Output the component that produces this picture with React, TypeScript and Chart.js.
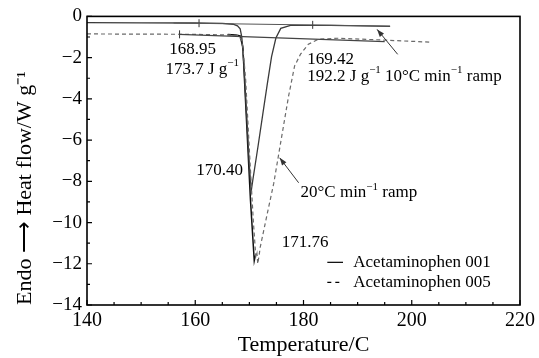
import React, { useEffect, useRef } from "react";
import { Chart, registerables } from "chart.js";
Chart.register(...registerables);

const FONT = "'Liberation Serif', 'Times New Roman', Times, serif";

// axis ticks
const xTicks = [140, 160, 180, 200, 220];
const yTicks = [0, -2, -4, -6, -8, -10, -12, -14];
const xMinor = [145, 150, 155, 165, 170, 175, 185, 190, 195, 205, 210, 215];
const yMinor = [-1, -3, -5, -7, -9, -11, -13];

// Acetaminophen 001, 10 °C/min (solid)
const a001_10_T = [140, 150, 160, 165, 167, 167.8, 168.3, 168.6, 169.0, 169.5, 170.0, 170.35, 170.6, 171.6, 172.5, 173.3, 174.1, 174.9, 175.8, 177.6, 185, 196];
const a001_10_H = [-0.3, -0.31, -0.32, -0.34, -0.38, -0.46, -0.6, -1.0, -2.4, -4.85, -7.25, -8.45, -8.0, -6.3, -4.7, -3.3, -1.95, -1.05, -0.58, -0.44, -0.44, -0.48];

// Acetaminophen 001, 20 °C/min (solid)
const a001_20_T = [166, 167.5, 168.3, 168.8, 169.5, 170.2, 170.9, 171.1];
const a001_20_H = [-0.88, -0.9, -0.95, -1.5, -5.2, -8.9, -11.85, -11.6];

// Acetaminophen 005 (dashed)
const a005_T = [140, 150, 160, 166, 168, 168.7, 169.3, 170.0, 170.7, 171.2, 171.4, 171.55, 171.8, 172.0, 173.0, 174.5, 176.15, 177.25, 178.35, 179.45, 180.9, 182.75, 186.4, 195, 203.5];
const a005_H = [-0.85, -0.86, -0.87, -0.9, -0.93, -1.2, -3.0, -6.5, -9.8, -11.7, -11.5, -12.0, -11.6, -11.2, -9.95, -8.1, -5.55, -3.86, -2.41, -1.83, -1.35, -1.11, -1.06, -1.15, -1.25];

// integration baselines
const baseUpperT = [156, 196];
const baseUpperH = [-0.32, -0.47];
const baseLowerT = [157, 195];
const baseLowerH = [-0.87, -1.22];
const baseTickT = [160.7, 181.7, 157.1];
const baseTickH = [-0.33, -0.41, -0.87];

// annotations (data coordinates)
const annotations = [
  { x: 155.2, y: -1.6, parts: [["168.95", 0]] },
  { x: 154.5, y: -2.56, parts: [["173.7 J g", 0], ["\u22121", 1]] },
  { x: 180.7, y: -2.08, parts: [["169.42", 0]] },
  { x: 180.7, y: -2.9, parts: [["192.2 J g", 0], ["\u22121", 1]] },
  { x: 195.05, y: -2.9, parts: [["10\u00B0C min", 0], ["\u22121", 1], [" ramp", 0]] },
  { x: 160.2, y: -7.48, parts: [["170.40", 0]] },
  { x: 179.45, y: -8.55, parts: [["20\u00B0C min", 0], ["\u22121", 1], [" ramp", 0]] },
  { x: 176.0, y: -10.96, parts: [["171.76", 0]] },
];
const arrows = [
  { from: [197.4, -1.84], to: [193.6, -0.63] },
  { from: [179.1, -8.07], to: [175.6, -6.86] },
];
const legendItems = [
  { label: "Acetaminophen 001", dash: [] as number[], y: -11.93 },
  { label: "Acetaminophen 005", dash: [4, 4], y: -12.9 },
];
const legendX = [184.4, 187.3, 189.2];

const zip = (xs: number[], ys: number[]) => xs.map((x, i) => ({ x, y: ys[i] }));
const fmt = (v: number) => (v < 0 ? "\u2212" + Math.abs(v) : String(v));

const decor = {
  id: "decor",
  afterDatasetsDraw(chart: any) {
    const { ctx, chartArea: ca, scales } = chart;
    const xs = scales.x, ys = scales.y;
    ctx.save();
    // frame
    ctx.strokeStyle = "#000";
    ctx.lineWidth = 1.6;
    ctx.strokeRect(ca.left, ca.top, ca.right - ca.left, ca.bottom - ca.top);
    // ticks inward
    ctx.lineWidth = 1.2;
    ctx.beginPath();
    xTicks.forEach((v) => { const p = xs.getPixelForValue(v); ctx.moveTo(p, ca.bottom); ctx.lineTo(p, ca.bottom - 5); });
    xMinor.forEach((v) => { const p = xs.getPixelForValue(v); ctx.moveTo(p, ca.bottom); ctx.lineTo(p, ca.bottom - 3); });
    yTicks.forEach((v) => { const p = ys.getPixelForValue(v); ctx.moveTo(ca.left, p); ctx.lineTo(ca.left + 5, p); });
    yMinor.forEach((v) => { const p = ys.getPixelForValue(v); ctx.moveTo(ca.left, p); ctx.lineTo(ca.left + 3, p); });
    ctx.stroke();
    // arrows
    ctx.strokeStyle = "#333";
    ctx.fillStyle = "#333";
    ctx.lineWidth = 1;
    arrows.forEach((a) => {
      const x1 = xs.getPixelForValue(a.from[0]), y1 = ys.getPixelForValue(a.from[1]);
      const x2 = xs.getPixelForValue(a.to[0]), y2 = ys.getPixelForValue(a.to[1]);
      ctx.beginPath(); ctx.moveTo(x1, y1); ctx.lineTo(x2, y2); ctx.stroke();
      const ang = Math.atan2(y2 - y1, x2 - x1);
      ctx.beginPath();
      ctx.moveTo(x2, y2);
      ctx.lineTo(x2 - 8 * Math.cos(ang - 0.35), y2 - 8 * Math.sin(ang - 0.35));
      ctx.lineTo(x2 - 8 * Math.cos(ang + 0.35), y2 - 8 * Math.sin(ang + 0.35));
      ctx.closePath(); ctx.fill();
    });
    // annotation texts
    ctx.fillStyle = "#000";
    ctx.textBaseline = "middle";
    ctx.textAlign = "left";
    annotations.forEach((a) => {
      let px = xs.getPixelForValue(a.x);
      const py = ys.getPixelForValue(a.y);
      a.parts.forEach(([t, sup]: any) => {
        ctx.font = sup ? `11px ${FONT}` : `17px ${FONT}`;
        ctx.fillText(t, px, sup ? py - 6 : py);
        px += ctx.measureText(t).width;
      });
    });
    // legend
    legendItems.forEach((it) => {
      const py = ys.getPixelForValue(it.y);
      ctx.strokeStyle = "#000";
      ctx.lineWidth = 1.2;
      ctx.setLineDash(it.dash);
      ctx.beginPath();
      ctx.moveTo(xs.getPixelForValue(legendX[0]), py);
      ctx.lineTo(xs.getPixelForValue(legendX[1]), py);
      ctx.stroke();
      ctx.setLineDash([]);
      ctx.font = `17px ${FONT}`;
      ctx.fillText(it.label, xs.getPixelForValue(legendX[2]), py);
    });
    ctx.restore();
  },
};

export default function App() {
  const ref = useRef<HTMLCanvasElement>(null);
  useEffect(() => {
    if (!ref.current) return;
    const chart = new Chart(ref.current, {
      type: "line",
      data: {
        datasets: [
          { data: zip(baseUpperT, baseUpperH), borderColor: "#555", borderWidth: 1, pointRadius: 0 },
          { data: zip(baseLowerT, baseLowerH), borderColor: "#444", borderWidth: 1.2, pointRadius: 0 },
          { data: zip(baseTickT, baseTickH), showLine: false, pointStyle: "line", rotation: 90, pointRadius: 4, borderColor: "#333", borderWidth: 1 },
          { data: zip(a005_T, a005_H), borderColor: "#6a6a6a", borderWidth: 1.2, borderDash: [4, 3], pointRadius: 0 },
          { data: zip(a001_10_T, a001_10_H), borderColor: "#3a3a3a", borderWidth: 1.3, pointRadius: 0 },
          { data: zip(a001_20_T, a001_20_H), borderColor: "#111", borderWidth: 1.5, pointRadius: 0 },
        ],
      } as any,
      options: {
        responsive: false,
        animation: false,
        layout: { padding: { left: 0, top: 15, right: 16, bottom: 0 } },
        plugins: { legend: { display: false }, tooltip: { enabled: false } },
        elements: { line: { tension: 0 } },
        scales: {
          x: {
            type: "linear",
            min: 140,
            max: 220,
            afterBuildTicks: (s: any) => { s.ticks = xTicks.map((v) => ({ value: v })); },
            afterFit: (s: any) => { s.height = 53; },
            grid: { display: false, drawTicks: false },
            border: { display: false },
            ticks: { font: { family: FONT, size: 20 }, color: "#000", padding: 4, maxRotation: 0, callback: (v: any) => fmt(Number(v)) },
            title: { display: true, text: "Temperature/C", font: { family: FONT, size: 22 }, color: "#000", padding: { top: 0, bottom: 0 } },
          },
          y: {
            type: "linear",
            min: -14,
            max: 0,
            afterBuildTicks: (s: any) => { s.ticks = yTicks.map((v) => ({ value: v })); },
            afterFit: (s: any) => { s.width = 87; },
            grid: { display: false, drawTicks: false },
            border: { display: false },
            ticks: { font: { family: FONT, size: 19 }, color: "#000", padding: 5, callback: (v: any) => fmt(Number(v)) },
            title: { display: true, align: "start", text: "Endo \u27F6 Heat flow/W g\u207B\u00B9", font: { family: FONT, size: 22 }, color: "#000", padding: { top: 12, bottom: 4 } },
          },
        },
      } as any,
      plugins: [decor],
    });
    return () => chart.destroy();
  }, []);
  return (
    <div style={{ position: "fixed", left: 0, top: 0, width: 539, height: 358, background: "#fff" }}>
      <canvas ref={ref} width={539} height={358} />
    </div>
  );
}
